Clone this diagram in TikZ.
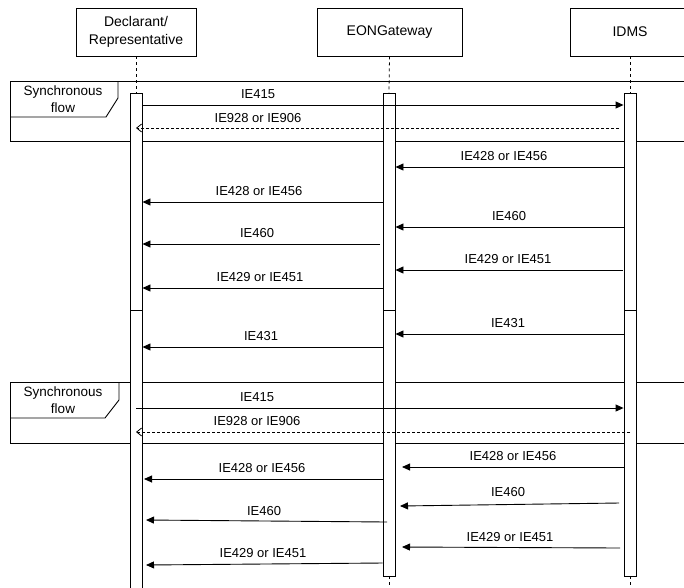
\documentclass[tikz,border=0pt]{standalone}
\usepackage{fontspec}
\setmainfont{Liberation Sans}
\usetikzlibrary{arrows.meta}
\begin{document}
\begin{tikzpicture}[x=1pt,y=-1pt,
 hdr/.style={draw,fill=white,line width=0.9pt,minimum height=48pt,inner sep=0pt,font=\fontsize{14}{18}\selectfont,align=center},
 bar/.style={draw,fill=white,line width=0.9pt,minimum width=12pt,inner sep=0pt},
 life/.style={line width=0.8pt,dash pattern=on 3pt off 3pt},
 msg/.style={line width=0.9pt,-{Triangle[length=8pt,width=7pt]}},
 ret/.style={line width=0.8pt,dash pattern=on 3pt off 2pt,-{Straight Barb[length=5pt,width=8pt]}},
 lbl/.style={font=\fontsize{13}{14}\selectfont,inner sep=0pt},
 frm/.style={line width=0.9pt},
 tabtxt/.style={font=\fontsize{13.5}{17}\selectfont,align=center,inner sep=0pt}]
\useasboundingbox (0,0) rectangle (684,587);
% headers
\node[hdr,minimum width=120pt] (hd) at (136,32) {Declarant/\\Representative};
\node[hdr,minimum width=145pt] (he) at (389.5,32) {EONGateway};
\node[hdr,minimum width=120pt] (hi) at (630,32) {IDMS};
% frames
\draw[frm] (10,81) rectangle (700,141);
\draw[frm] (10,117) -- (106,117) -- (118,98) -- (118,81);
\node[tabtxt] (t1) at (63,99) {Synchronous\\flow};
\draw[frm] (10,382) rectangle (700,443);
\draw[frm] (10,418) -- (105,418) -- (119,400) -- (119,382);
\node[tabtxt] (t2) at (63,400) {Synchronous\\flow};
% activation bars
\node[bar,minimum height=217pt] (d1) at (136,201.5) {};
\node[bar,minimum height=290pt] (d2) at (136,455) {};
\node[bar,minimum height=217pt] (e1) at (389,201.5) {};
\node[bar,minimum height=266pt] (e2) at (389,443) {};
\node[bar,minimum height=217pt] (i1) at (630,201.5) {};
\node[bar,minimum height=266pt] (i2) at (630,443) {};
% lifelines
\draw[life] (hd.south) -- (d1.north);
\draw[life] (he.south) -- (e1.north);
\draw[life] (hi.south) -- (i1.north);
\coordinate (eend) at (389,587);
\coordinate (iend) at (630,587);
\draw[life] (e2.south) -- (eend);
\draw[life] (i2.south) -- (iend);
% frame 1 messages
\draw[msg] (d1.east |- 0,105) -- (i1.west |- 0,105);
\node[lbl] (l1) at (258,94) {IE415};
\draw[ret] (619,128) -- (d1.center |- 0,128);
\node[lbl] (l2) at (258,118) {IE928 or IE906};
% responses
\draw[msg] (i1.west |- 0,167) -- (e1.east |- 0,167);
\node[lbl] (l3) at (504,156) {IE428 or IE456};
\draw[msg] (e1.west |- 0,202) -- (d1.east |- 0,202);
\node[lbl] (l4) at (259,191) {IE428 or IE456};
\draw[msg] (i1.west |- 0,227) -- (e1.east |- 0,227);
\node[lbl] (l5) at (509,216) {IE460};
\draw[msg] (380,244) -- (d1.east |- 0,244);
\node[lbl] (l6) at (257,233) {IE460};
\draw[msg] (623,270) -- (e1.east |- 0,270);
\node[lbl] (l7) at (508,259) {IE429 or IE451};
\draw[msg] (e1.west |- 0,288) -- (d1.east |- 0,288);
\node[lbl] (l8) at (260,277) {IE429 or IE451};
\draw[msg] (i2.west |- 0,334) -- (e2.east |- 0,334);
\node[lbl] (l9) at (508,323) {IE431};
\draw[msg] (e2.west |- 0,347) -- (d2.east |- 0,347);
\node[lbl] (l10) at (261,336) {IE431};
% frame 2 messages
\draw[msg] (d2.center |- 0,408) -- (i2.west |- 0,408);
\node[lbl] (l11) at (257,397) {IE415};
\draw[ret] (i2.center |- 0,432) -- (d2.center |- 0,432);
\node[lbl] (l12) at (257,421) {IE928 or IE906};
\draw[msg] (i2.west |- 0,467) -- (402,467);
\node[lbl] (l13) at (513,456) {IE428 or IE456};
\draw[msg] (e2.west |- 0,479) -- (144,479);
\node[lbl] (l14) at (262,468) {IE428 or IE456};
\draw[msg] (619,503) -- (400,506);
\node[lbl] (l15) at (508,492) {IE460};
\draw[msg] (387,522) -- (146,520);
\node[lbl] (l16) at (264,511) {IE460};
\draw[msg] (620,548) -- (402,547);
\node[lbl] (l17) at (510,537) {IE429 or IE451};
\draw[msg] (e2.west |- 0,563) -- (146,565);
\node[lbl] (l18) at (263,553) {IE429 or IE451};
\end{tikzpicture}
\end{document}
